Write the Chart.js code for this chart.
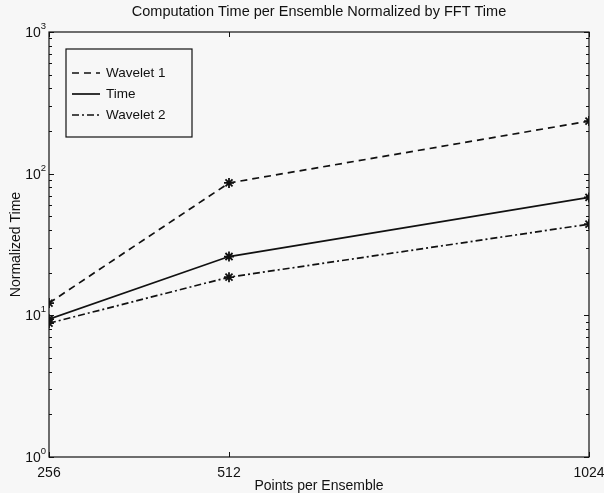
<!DOCTYPE html>
<html>
<head>
<meta charset="utf-8">
<script src="https://cdn.jsdelivr.net/npm/chart.js@4"></script>
<style>
  html, body { margin: 0; padding: 0; background: #f7f7f7; }
  #wrap { width: 604px; height: 493px; }
</style>
</head>
<body>
<div id="wrap"><canvas id="grafico" width="604" height="493"></canvas></div>
<script>
const puntos = [256, 512, 1024];
const wavelet1 = [12.2, 86, 235];
const tiempo = [9.4, 26, 68];
const wavelet2 = [8.8, 18.6, 44];
const ticksY = [1, 10, 100, 1000];
const exponentesY = ['0', '1', '2', '3'];

const titulo = 'Computation Time per Ensemble Normalized by FFT Time';
const fuente = 'Liberation Sans, Arial, Helvetica, sans-serif';
const negro = '#111';

// ticks menores del eje log: 2..9 en cada decada
const ticksMenores = [];
for (let d = 0; d < ticksY.length - 1; d++) {
    for (let k = 2; k <= 9; k++) ticksMenores.push(k * ticksY[d]);
}

function serie(label, data, dash) {
    return {
        label: label,
        data: puntos.map((x, i) => ({ x: x, y: data[i] })),
        borderColor: negro,
        borderWidth: 1.7,
        borderDash: dash,
        pointStyle: 'star',
        pointRadius: 5,
        pointBorderColor: negro,
        pointBorderWidth: 1.8,
        fill: false,
        tension: 0
    };
}

// marco, titulo centrado sobre el area, ticks hacia dentro, etiquetas 10^n y leyenda
const marco = {
    id: 'marco',
    beforeDraw(chart) {
        const ctx = chart.ctx;
        ctx.save();
        ctx.fillStyle = '#f7f7f7';
        ctx.fillRect(0, 0, chart.width, chart.height);
        ctx.restore();
    },
    afterDraw(chart) {
        const ctx = chart.ctx;
        const a = chart.chartArea;
        const y = chart.scales.y;
        const x = chart.scales.x;
        ctx.save();

        ctx.fillStyle = negro;
        ctx.font = '14.5px ' + fuente;
        ctx.textAlign = 'center';
        ctx.textBaseline = 'middle';
        ctx.fillText(titulo, (a.left + a.right) / 2, 12);

        ctx.strokeStyle = negro;
        ctx.lineWidth = 1.2;
        ctx.strokeRect(a.left, a.top, a.right - a.left, a.bottom - a.top);

        ctx.beginPath();
        ticksMenores.concat(ticksY).forEach(v => {
            const py = Math.round(y.getPixelForValue(v)) + 0.5;
            const len = ticksY.includes(v) ? 5 : 3;
            ctx.moveTo(a.left, py); ctx.lineTo(a.left + len, py);
            ctx.moveTo(a.right, py); ctx.lineTo(a.right - len, py);
        });
        puntos.forEach(v => {
            const px = Math.round(x.getPixelForValue(v)) + 0.5;
            ctx.moveTo(px, a.bottom); ctx.lineTo(px, a.bottom - 5);
            ctx.moveTo(px, a.top); ctx.lineTo(px, a.top + 5);
        });
        ctx.lineWidth = 1;
        ctx.stroke();

        // etiquetas del eje y: base 10 con exponente
        ctx.textBaseline = 'alphabetic';
        ticksY.forEach((v, i) => {
            const py = y.getPixelForValue(v);
            ctx.font = '9.5px ' + fuente;
            ctx.textAlign = 'right';
            ctx.fillText(exponentesY[i], a.left - 3, py - 3);
            const we = ctx.measureText(exponentesY[i]).width;
            ctx.font = '14px ' + fuente;
            ctx.fillText('10', a.left - 3 - we, py + 5);
        });

        // leyenda
        const lx = 66, ly = 49, lw = 126, lh = 88;
        ctx.lineWidth = 1.2;
        ctx.fillStyle = '#f7f7f7';
        ctx.fillRect(lx, ly, lw, lh);
        ctx.strokeRect(lx, ly, lw, lh);
        ctx.font = '13.5px ' + fuente;
        ctx.textAlign = 'left';
        ctx.textBaseline = 'middle';
        chart.data.datasets.forEach((ds, i) => {
            const yy = ly + 24 + i * 21;
            ctx.beginPath();
            ctx.setLineDash(ds.borderDash || []);
            ctx.lineWidth = ds.borderWidth;
            ctx.moveTo(lx + 6, yy);
            ctx.lineTo(lx + 34, yy);
            ctx.stroke();
            ctx.setLineDash([]);
            ctx.fillStyle = negro;
            ctx.fillText(ds.label, lx + 40, yy);
        });
        ctx.restore();
    }
};

new Chart(document.getElementById('grafico'), {
    type: 'line',
    data: {
        datasets: [
            serie('Wavelet 1', wavelet1, [7, 5]),
            serie('Time', tiempo, []),
            serie('Wavelet 2', wavelet2, [7, 3, 2, 3])
        ]
    },
    options: {
        responsive: false,
        animation: false,
        layout: { padding: { left: 0, right: 15, top: 32, bottom: 0 } },
        plugins: {
            legend: { display: false },
            tooltip: { enabled: false },
            title: { display: false }
        },
        scales: {
            x: {
                type: 'linear',
                min: 256,
                max: 1024,
                afterBuildTicks: s => { s.ticks = puntos.map(v => ({ value: v })); },
                afterFit: s => { s.height = 36; s.paddingLeft = 0; s.paddingRight = 0; },
                grid: { display: false, drawTicks: false },
                border: { display: false },
                ticks: {
                    color: negro,
                    padding: 8,
                    maxRotation: 0,
                    autoSkip: false,
                    font: { family: fuente, size: 14 },
                    callback: v => String(v)
                },
                title: {
                    display: true,
                    text: 'Points per Ensemble',
                    color: negro,
                    font: { family: fuente, size: 14 },
                    padding: { top: 0, bottom: -2 }
                }
            },
            y: {
                type: 'logarithmic',
                min: 1,
                max: 1000,
                afterBuildTicks: s => { s.ticks = ticksY.map(v => ({ value: v })); },
                afterFit: s => { s.width = 49; s.paddingTop = 0; s.paddingBottom = 0; },
                grid: { display: false, drawTicks: false },
                border: { display: false },
                ticks: { display: false },
                title: {
                    display: true,
                    text: 'Normalized Time',
                    color: negro,
                    font: { family: fuente, size: 14 },
                    padding: { top: 8, bottom: 0 }
                }
            }
        }
    },
    plugins: [marco]
});
</script>
</body>
</html>
